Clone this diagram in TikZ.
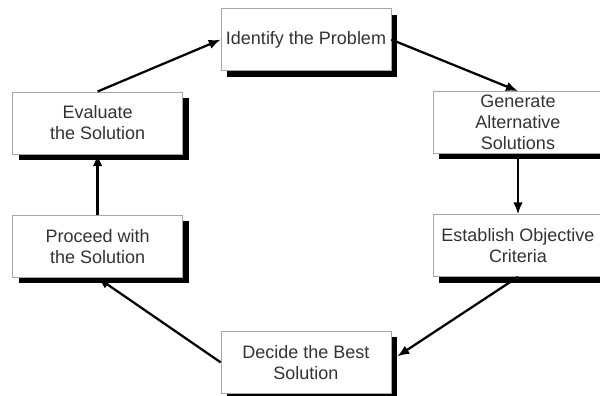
\documentclass[tikz,border=0pt]{standalone}
\usepackage{fontspec}
\setmainfont{Liberation Sans}
\usetikzlibrary{shadows}
\usetikzlibrary{arrows.meta}

\begin{document}
\begin{tikzpicture}[
    stepbox/.style={draw=gray!70, thin, fill=white, minimum width=4.25cm,
      minimum height=1.55cm, inner sep=0pt, align=center, text=black!80,
      font=\fontsize{12.8}{15}\selectfont,
      drop shadow={shadow xshift=0.15cm, shadow yshift=-0.15cm, opacity=1, fill=black}},
    flow/.style={-{Latex[length=3mm,width=2.4mm]}, line width=1.6pt}
    ]
\clip (0,0) rectangle (15,9.9);

\node[stepbox] (identify)  at (7.65,8.91)  {Identify the Problem};
\node[stepbox] (generate)  at (12.95,6.84) {Generate\\Alternative\\Solutions};
\node[stepbox] (establish) at (12.95,3.76) {Establish Objective\\Criteria};
\node[stepbox] (decide)    at (7.65,0.84)  {Decide the Best\\Solution};
\node[stepbox] (proceed)   at (2.44,3.74)  {Proceed with\\the Solution};
\node[stepbox] (evaluate)  at (2.44,6.83)  {Evaluate\\the Solution};

\draw [flow] (evaluate.north) -- (identify.west);
\draw [flow] (identify.east) -- (generate.north);
\draw [flow] (generate.south) -- (establish.north);
\draw [flow] (establish.south) -- ([xshift=0.15cm,yshift=0.15cm]decide.east);
\draw [flow] (decide.west) -- (proceed.south);
\draw [flow] (proceed.north) -- (evaluate.south);
\end{tikzpicture}
\end{document}
